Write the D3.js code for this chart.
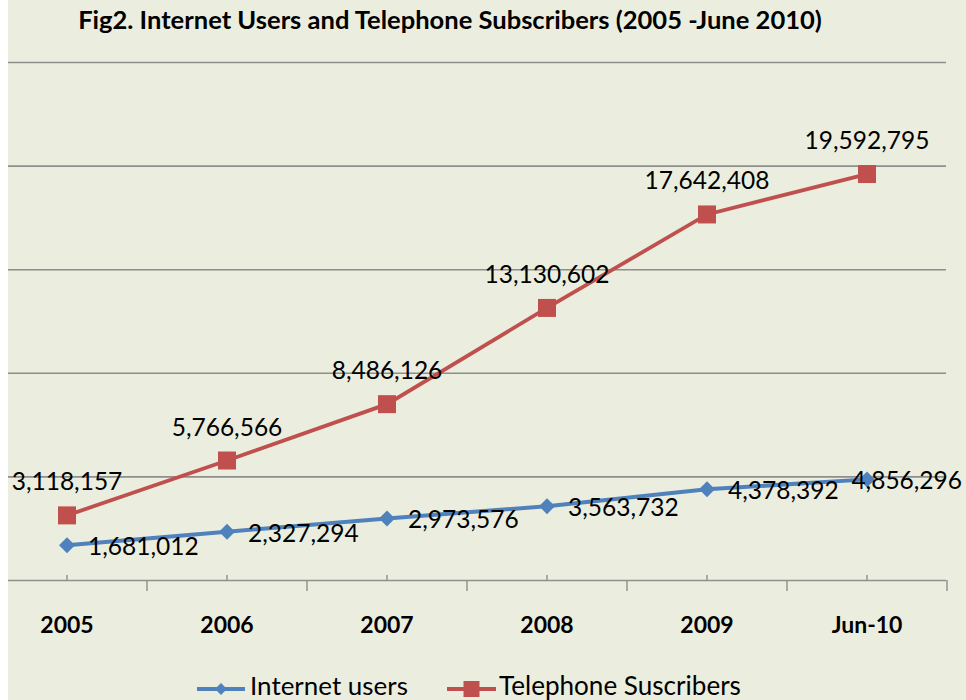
<!DOCTYPE html>
<html>
<head>
<meta charset="utf-8">
<script src="https://cdn.jsdelivr.net/npm/d3@7"></script>
<style>
  body { margin: 0; background: #fff; }
  text { font-family: Lato, "Open Sans", sans-serif; fill: #000; }
</style>
</head>
<body>
<div id="chart"></div>
<script>
const categories = ["2005", "2006", "2007", "2008", "2009", "Jun-10"];
const internetUsers = [1681012, 2327294, 2973576, 3563732, 4378392, 4856296];
const telephoneSubscribers = [3118157, 5766566, 8486126, 13130602, 17642408, 19592795];
const yTicks = [0, 5000000, 10000000, 15000000, 20000000, 25000000];

const title = "Fig2. Internet Users and Telephone Subscribers (2005 -June 2010)";
const seriesNames = ["Internet users", "Telephone Suscribers"];

let config = {
    div: '#chart',
    width: 966,
    height: 700,
    plotLeft: 8,
    plotRight: 946,
    top: 62,
    bottom: 580
};

const blue = "#4F81BD";
const red = "#C0504D";
const gridColor = "#8E8E8E";

// shrink/grow a text so it spans the wanted width
function fitWidth(sel, target) {
    let size = parseFloat(sel.attr("font-size"));
    let w = sel.node().getComputedTextLength();
    if (w > 0) sel.attr("font-size", size * target / w);
}

let svg = d3.select(config.div)
    .append("svg")
    .attr("width", config.width)
    .attr("height", config.height);

svg.append("rect")
    .attr("x", config.plotLeft)
    .attr("y", 0)
    .attr("width", config.width - config.plotLeft)
    .attr("height", config.height)
    .attr("fill", "#EBEEDF");

let x = d3.scaleBand()
    .domain(categories)
    .range([-13, 947])
    .paddingInner(0);

let y = d3.scaleLinear()
    .domain([0, 25000000])
    .range([config.bottom, config.top]);

let cx = c => x(c) + x.bandwidth() / 2;

// gridlines (also the baseline)
let grid = svg.append("g")
    .attr("transform", `translate(${config.plotRight},0)`)
    .call(d3.axisLeft(y)
        .tickValues(yTicks)
        .tickSize(config.plotRight - config.plotLeft)
        .tickFormat(""));
grid.select(".domain").remove();
grid.selectAll(".tick line")
    .attr("stroke", gridColor)
    .attr("stroke-width", 1.6);

// x axis: small ticks at centres pointing up, labels below
let xAxis = svg.append("g")
    .attr("transform", `translate(0,${config.bottom})`)
    .call(d3.axisBottom(x)
        .tickSizeInner(-5)
        .tickSizeOuter(0));
xAxis.select(".domain").remove();
xAxis.selectAll(".tick line")
    .attr("stroke", gridColor)
    .attr("stroke-width", 1.4);
xAxis.selectAll(".tick text")
    .attr("y", 53)
    .attr("dy", null)
    .attr("font-size", 23)
    .attr("font-weight", "bold")
    .attr("font-family", "Lato, sans-serif")
    .attr("fill", "#000");

// bigger ticks between categories pointing down
svg.append("g")
    .selectAll("line")
    .data(categories)
    .join("line")
    .attr("x1", d => x(d) + x.bandwidth())
    .attr("x2", d => x(d) + x.bandwidth())
    .attr("y1", config.bottom)
    .attr("y2", config.bottom + 11)
    .attr("stroke", gridColor)
    .attr("stroke-width", 1.4);

let line = d3.line()
    .x((d, i) => cx(categories[i]))
    .y(d => y(d));

let diamond = "M0,-8L8,0L0,8L-8,0Z";

// Telephone series
svg.append("path")
    .datum(telephoneSubscribers)
    .attr("fill", "none")
    .attr("stroke", red)
    .attr("stroke-width", 3.8)
    .attr("d", line);
svg.append("g")
    .selectAll("rect")
    .data(telephoneSubscribers)
    .join("rect")
    .attr("x", (d, i) => cx(categories[i]) - 9)
    .attr("y", d => y(d) - 9)
    .attr("width", 18)
    .attr("height", 18)
    .attr("fill", red);

// Internet series
svg.append("path")
    .datum(internetUsers)
    .attr("fill", "none")
    .attr("stroke", blue)
    .attr("stroke-width", 4)
    .attr("d", line);
svg.append("g")
    .selectAll("path")
    .data(internetUsers)
    .join("path")
    .attr("transform", (d, i) => `translate(${cx(categories[i])},${y(d)})`)
    .attr("d", diamond)
    .attr("fill", blue);

// Labels
svg.append("g")
    .selectAll("text")
    .data(telephoneSubscribers)
    .join("text")
    .attr("x", (d, i) => cx(categories[i]))
    .attr("y", d => y(d) - 25)
    .attr("text-anchor", "middle")
    .attr("font-size", 24.5)
    .text(d => d3.format(",")(d));

svg.append("g")
    .selectAll("text")
    .data(internetUsers)
    .join("text")
    .attr("x", (d, i) => cx(categories[i]) + 21)
    .attr("y", d => y(d) + 10)
    .attr("font-size", 24.5)
    .text(d => d3.format(",")(d))
    // push labels back inside when they run past the right edge
    .each(function() {
        let w = this.getComputedTextLength();
        let x0 = +this.getAttribute("x");
        if (x0 + w > config.width - 4) this.setAttribute("x", config.width - 4 - w);
    });

// Title
let t = svg.append("text")
    .attr("x", 450)
    .attr("y", 29)
    .attr("text-anchor", "middle")
    .attr("font-size", 22)
    .attr("font-weight", "bold")
    .text(title);
fitWidth(t, 744);

// Legend
let legendItems = [
    {name: seriesNames[0], color: blue, x0: 197, x1: 245, tx: 250, w: 158, marker: "diamond"},
    {name: seriesNames[1], color: red, x0: 447, x1: 496, tx: 499, w: 242, marker: "square"}
];
let legend = svg.append("g");
legendItems.forEach(it => {
    let g = legend.append("g");
    g.append("line")
        .attr("x1", it.x0).attr("x2", it.x1)
        .attr("y1", 689).attr("y2", 689)
        .attr("stroke", it.color)
        .attr("stroke-width", 4);
    let mx = (it.x0 + it.x1) / 2;
    if (it.marker == "diamond") {
        g.append("path")
            .attr("transform", `translate(${mx},689) scale(0.75)`)
            .attr("d", diamond)
            .attr("fill", it.color);
    } else {
        g.append("rect")
            .attr("x", mx - 8).attr("y", 681)
            .attr("width", 16).attr("height", 16)
            .attr("fill", it.color);
    }
    let lt = g.append("text")
        .attr("x", it.tx)
        .attr("y", 695)
        .attr("font-size", 22)
        .text(it.name);
    fitWidth(lt, it.w);
});
</script>
</body>
</html>
